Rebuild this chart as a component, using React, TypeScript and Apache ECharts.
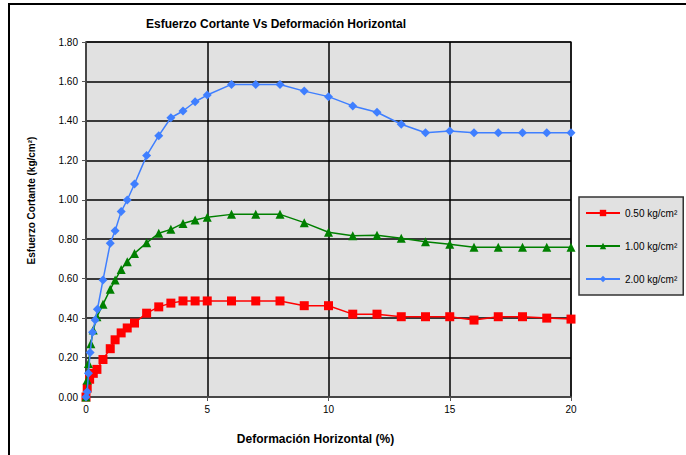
import React, { useEffect, useRef } from "react";
import * as echarts from "echarts";

const xRed = [0, 0.05, 0.15, 0.3, 0.45, 0.7, 1.0, 1.2, 1.45, 1.7, 2.0, 2.5, 3.0, 3.5, 4.0, 4.5, 5, 6, 7, 8, 9, 10, 11, 12, 13, 14, 15, 16, 17, 18, 19, 20];
const yRed = [0, 0.045, 0.09, 0.12, 0.14, 0.19, 0.245, 0.29, 0.325, 0.35, 0.375, 0.425, 0.457, 0.476, 0.487, 0.487, 0.487, 0.487, 0.487, 0.487, 0.463, 0.463, 0.42, 0.42, 0.407, 0.407, 0.407, 0.39, 0.407, 0.407, 0.4, 0.395];

const xGreen = [0, 0.05, 0.1, 0.2, 0.3, 0.45, 0.7, 1.0, 1.2, 1.45, 1.7, 2.0, 2.5, 3.0, 3.5, 4.0, 4.5, 5, 6, 7, 8, 9, 10, 11, 12, 13, 14, 15, 16, 17, 18, 19, 20];
const yGreen = [0, 0.086, 0.17, 0.27, 0.34, 0.407, 0.47, 0.546, 0.593, 0.647, 0.686, 0.728, 0.782, 0.83, 0.85, 0.88, 0.897, 0.912, 0.926, 0.926, 0.926, 0.884, 0.835, 0.818, 0.82, 0.805, 0.787, 0.774, 0.759, 0.759, 0.759, 0.759, 0.759];

const xBlue = [0, 0.05, 0.1, 0.17, 0.27, 0.38, 0.47, 0.7, 1.0, 1.2, 1.45, 1.7, 2.0, 2.5, 3.0, 3.5, 4.0, 4.5, 5, 6, 7, 8, 9, 10, 11, 12, 13, 14, 15, 16, 17, 18, 19, 20];
const yBlue = [0, 0.027, 0.12, 0.226, 0.328, 0.39, 0.445, 0.593, 0.779, 0.843, 0.94, 0.999, 1.08, 1.224, 1.325, 1.416, 1.45, 1.497, 1.531, 1.585, 1.585, 1.585, 1.551, 1.523, 1.476, 1.444, 1.383, 1.34, 1.349, 1.34, 1.34, 1.34, 1.34, 1.34];

const seriesNames = ["0.50 kg/cm²", "1.00 kg/cm²", "2.00 kg/cm²"];

const pairs = (xs: number[], ys: number[]) => xs.map((x, i) => [x, ys[i]]);

const FONT = "'Liberation Sans', Arial, sans-serif";

export default function App() {
  const ref = useRef<HTMLDivElement>(null);
  useEffect(() => {
    if (!ref.current) return;
    const chart = echarts.init(ref.current, undefined, { renderer: "svg" });
    chart.setOption({
      animation: false,
      backgroundColor: "#ffffff",
      textStyle: { fontFamily: FONT },
      title: {
        text: "Esfuerzo Cortante Vs Deformación Horizontal",
        left: 271,
        top: 13,
        textAlign: "center",
        textStyle: { fontSize: 12, fontWeight: "bold", color: "#000", fontFamily: FONT },
      },
      grid: {
        left: 86,
        right: 115,
        top: 42,
        bottom: 58,
        show: true,
        backgroundColor: "#E1E1E1",
        borderColor: "#555",
        borderWidth: 1.5,
      },
      legend: {
        orient: "vertical",
        left: 579,
        top: 197,
        width: 104,
        height: 98,
        padding: [11, 6, 11, 6],
        itemGap: 23,
        itemWidth: 34,
        itemHeight: 8,
        backgroundColor: "#E1E1E1",
        borderColor: "#333",
        borderWidth: 1.5,
        textStyle: { fontSize: 10, color: "#000", fontFamily: FONT },
        data: seriesNames,
      },
      xAxis: {
        type: "value",
        min: 0,
        max: 20,
        interval: 5,
        name: "Deformación Horizontal (%)",
        nameLocation: "middle",
        nameGap: 36,
        nameTextStyle: { fontSize: 12, fontWeight: "bold", color: "#000", fontFamily: FONT, padding: [0, 26, 0, 0] },
        axisLine: { show: true, lineStyle: { color: "#555", width: 1.5 } },
        axisTick: { show: true, length: 4, lineStyle: { color: "#555" } },
        axisLabel: { fontSize: 10, color: "#000", margin: 7 },
        splitLine: { show: true, lineStyle: { color: "#000", width: 1.5 } },
      },
      yAxis: {
        type: "value",
        min: 0,
        max: 1.8,
        interval: 0.2,
        name: "Esfuerzo Cortante (kg/cm²)",
        nameLocation: "middle",
        nameGap: 50,
        nameTextStyle: { fontSize: 10, fontWeight: "bold", color: "#000", fontFamily: FONT, padding: [0, 0, 0, 38] },
        axisLine: { show: true, lineStyle: { color: "#555", width: 1.5 } },
        axisTick: { show: true, length: 4, lineStyle: { color: "#555" } },
        axisLabel: { fontSize: 10, color: "#000", margin: 8, formatter: (v: number) => v.toFixed(2) },
        splitLine: { show: true, lineStyle: { color: "#000", width: 1.5 } },
      },
      graphic: [
        {
          type: "rect",
          shape: { x: 9, y: 4, width: 700, height: 470 },
          style: { fill: "none", stroke: "#000", lineWidth: 2 },
          silent: true,
        },
      ],
      series: [
        {
          name: seriesNames[0],
          type: "line",
          data: pairs(xRed, yRed),
          symbol: "rect",
          symbolSize: 9,
          itemStyle: { color: "#FF0000" },
          lineStyle: { color: "#FF0000", width: 1.5 },
          z: 3,
        },
        {
          name: seriesNames[1],
          type: "line",
          data: pairs(xGreen, yGreen),
          symbol: "triangle",
          symbolSize: 9,
          itemStyle: { color: "#008000" },
          lineStyle: { color: "#008000", width: 1.5 },
          z: 4,
        },
        {
          name: seriesNames[2],
          type: "line",
          data: pairs(xBlue, yBlue),
          symbol: "diamond",
          symbolSize: 9,
          itemStyle: { color: "#3F7FFF" },
          lineStyle: { color: "#3F7FFF", width: 1.5 },
          z: 5,
        },
      ],
    });
    return () => chart.dispose();
  }, []);
  return <div ref={ref} style={{ width: 686, height: 455, position: "absolute", left: 0, top: 0 }} />;
}
